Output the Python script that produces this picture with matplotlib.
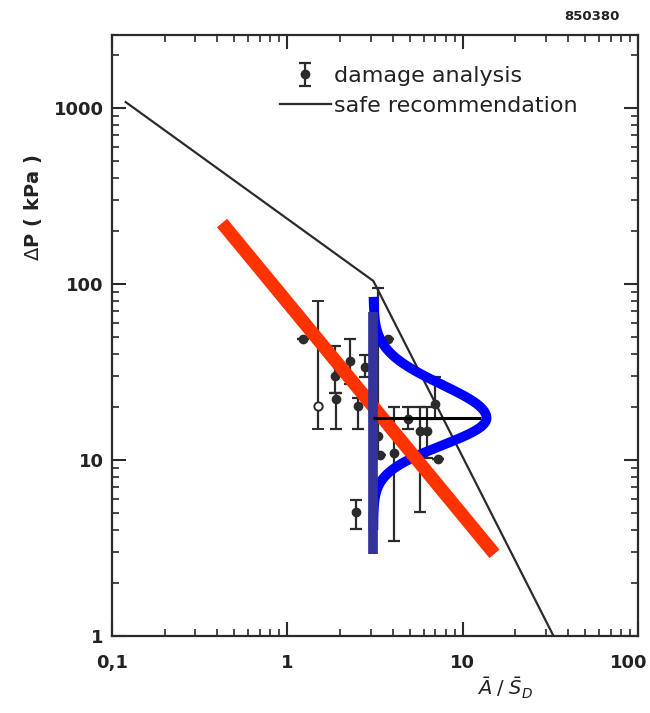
import numpy as np
import matplotlib
matplotlib.use("Agg")
import matplotlib.pyplot as plt
import matplotlib.transforms as mtransforms
from matplotlib.ticker import LogLocator, NullFormatter, FixedLocator, FixedFormatter

plt.rcParams['font.family'] = ['DejaVu Sans']
plt.rcParams['mathtext.fontset'] = 'dejavusans'

# ---------------- data ----------------
x_ticks = [0.1, 1, 10, 100]
x_tick_labels = ['0,1', '1', '10', '100']
y_ticks = [1, 10, 100, 1000]
y_tick_labels = ['1', '10', '100', '1000']

# safe recommendation line
safe_x = [0.12, 3.1, 33.0]
safe_y = [1080, 104, 1.0]

# damage analysis points (x, y, lower, upper)
pts_x = [1.23, 1.50, 1.88, 1.90, 2.29, 2.55, 2.79, 2.48, 3.30, 3.40, 3.78, 4.04, 4.90, 5.75, 6.30, 7.00, 7.20]
pts_y = [48.7, 20.3, 30.0, 22.2, 36.5, 20.3, 33.8, 5.07, 13.7, 10.7, 48.7, 11.0, 17.0, 14.6, 14.6, 20.8, 10.1]
pts_lo = [48.7, 15.0, 24.0, 15.0, 27.0, 15.0, 29.6, 4.06, 10.5, 10.7, 48.7, 3.47, 15.0, 5.07, 10.2, 17.0, 10.1]
pts_hi = [48.7, 80.0, 44.5, 24.0, 48.7, 22.5, 39.5, 5.93, 95.0, 10.7, 48.7, 20.0, 20.0, 20.0, 20.0, 29.6, 10.1]
pts_open = [False, True, False, False, False, False, False, False, False, False, False, False, False, False, False, False, False]

# red regression line
red_x = [0.425, 15.2]
red_y = [222, 2.93]

# blue vertical line and distribution curve
vline_x = 3.1
vline_y = [69, 2.93]
dist_top = 84.5
dist_bottom = 4.0
dist_peak_x = 13.7
dist_peak_y = 17.3
dist_sigma_up = 0.19   # decades
dist_sigma_lo = 0.155  # decades

# black horizontal line
hline_x = [3.1, 12.7]
hline_y = [17.3, 17.3]

# ---------------- figure ----------------
fig = plt.figure(figsize=(6.5, 7.13), dpi=100)
ax = fig.add_axes([0.172, 0.108, 0.8095, 0.843])
ax.set_xscale('log')
ax.set_yscale('log')
ax.set_xlim(0.1, 100)
ax.set_ylim(1, 2600)

ink = '#2b2b2b'
for s in ax.spines.values():
    s.set_linewidth(1.6)
    s.set_color(ink)

ax.xaxis.set_major_locator(FixedLocator(x_ticks))
ax.xaxis.set_major_formatter(FixedFormatter(x_tick_labels))
ax.yaxis.set_major_locator(FixedLocator(y_ticks))
ax.yaxis.set_major_formatter(FixedFormatter(y_tick_labels))
ax.xaxis.set_minor_locator(LogLocator(base=10, subs=np.arange(2, 10)))
ax.yaxis.set_minor_locator(LogLocator(base=10, subs=np.arange(2, 10)))
ax.xaxis.set_minor_formatter(NullFormatter())
ax.yaxis.set_minor_formatter(NullFormatter())
ax.tick_params(which='both', direction='in', top=True, right=True, color=ink)
ax.tick_params(which='major', length=10, width=1.5, labelsize=13)
ax.tick_params(which='minor', length=5, width=1.2)
ax.tick_params(axis='x', which='major', pad=13)
ax.tick_params(axis='y', which='major', pad=6)
for lab in ax.get_xticklabels() + ax.get_yticklabels():
    lab.set_fontweight('bold')
    lab.set_color('#222222')
# keep the last x label inside the picture
last = ax.get_xticklabels()[-1]
last.set_transform(last.get_transform() +
                   mtransforms.ScaledTranslation(-9 / 100, 0, fig.dpi_scale_trans))

# safe recommendation
ax.plot(safe_x, safe_y, color=ink, lw=1.6, label='safe recommendation', zorder=3)

# damage analysis
px = np.array(pts_x); py = np.array(pts_y)
lo = np.array(pts_lo); hi = np.array(pts_hi)
yerr = np.vstack([py - lo, hi - py])
openm = np.array(pts_open)
eb = ax.errorbar(px[~openm], py[~openm], yerr=yerr[:, ~openm], fmt='o', color=ink,
                 ms=6, capsize=4, elinewidth=1.6, capthick=1.6, zorder=3,
                 label='damage analysis')
ax.errorbar(px[openm], py[openm], yerr=yerr[:, openm], fmt='o', color=ink, mfc='white',
            mec=ink, mew=1.4, ms=6, capsize=4, elinewidth=1.6, capthick=1.6, zorder=3)

# blue distribution curve (drawn under the dark vertical line)
ly = np.linspace(np.log10(dist_top), np.log10(dist_bottom), 400)
mu = np.log10(dist_peak_y)
sig = np.where(ly >= mu, dist_sigma_up, dist_sigma_lo)
amp = np.log10(dist_peak_x) - np.log10(vline_x)
lx = np.log10(vline_x) + amp * np.exp(-0.5 * ((ly - mu) / sig) ** 2)
ax.plot(10 ** lx, 10 ** ly, color='#0000ff', lw=7, solid_capstyle='butt', zorder=4)

# red line
ax.plot(red_x, red_y, color='#ff3300', lw=9.5, solid_capstyle='butt', zorder=5)

# dark vertical line
ax.plot([vline_x, vline_x], vline_y, color='#333399', lw=7, solid_capstyle='butt', zorder=6)

# black horizontal line
ax.plot(hline_x, hline_y, color='black', lw=2.2, solid_capstyle='butt', zorder=7)

# legend
h, l = ax.get_legend_handles_labels()
leg = ax.legend([eb, h[0]], ['damage analysis', 'safe recommendation'],
                loc='upper left', bbox_to_anchor=(0.319, 0.948), frameon=False,
                fontsize=16, handlelength=2.3, handletextpad=0.15, labelspacing=0.45,
                borderpad=0, borderaxespad=0)
for t in leg.get_texts():
    t.set_color('#222222')

# axis labels and annotations
fig.text(33 / 650, 1 - 208 / 713, r'$\Delta$P ( kPa )', rotation=90, ha='center', va='center',
         fontsize=14, fontweight='bold', color='#222222')
fig.text(505 / 650, 1 - 688 / 713, r'$\bar{A}\;/\;\bar{S}_D$', ha='center', va='center',
         fontsize=14, color='#222222')
fig.text(592 / 650, 1 - 17 / 713, '850380', ha='center', va='center',
         fontsize=9.5, fontweight='bold', color='#222222')

fig.savefig('out.png', dpi=100)
